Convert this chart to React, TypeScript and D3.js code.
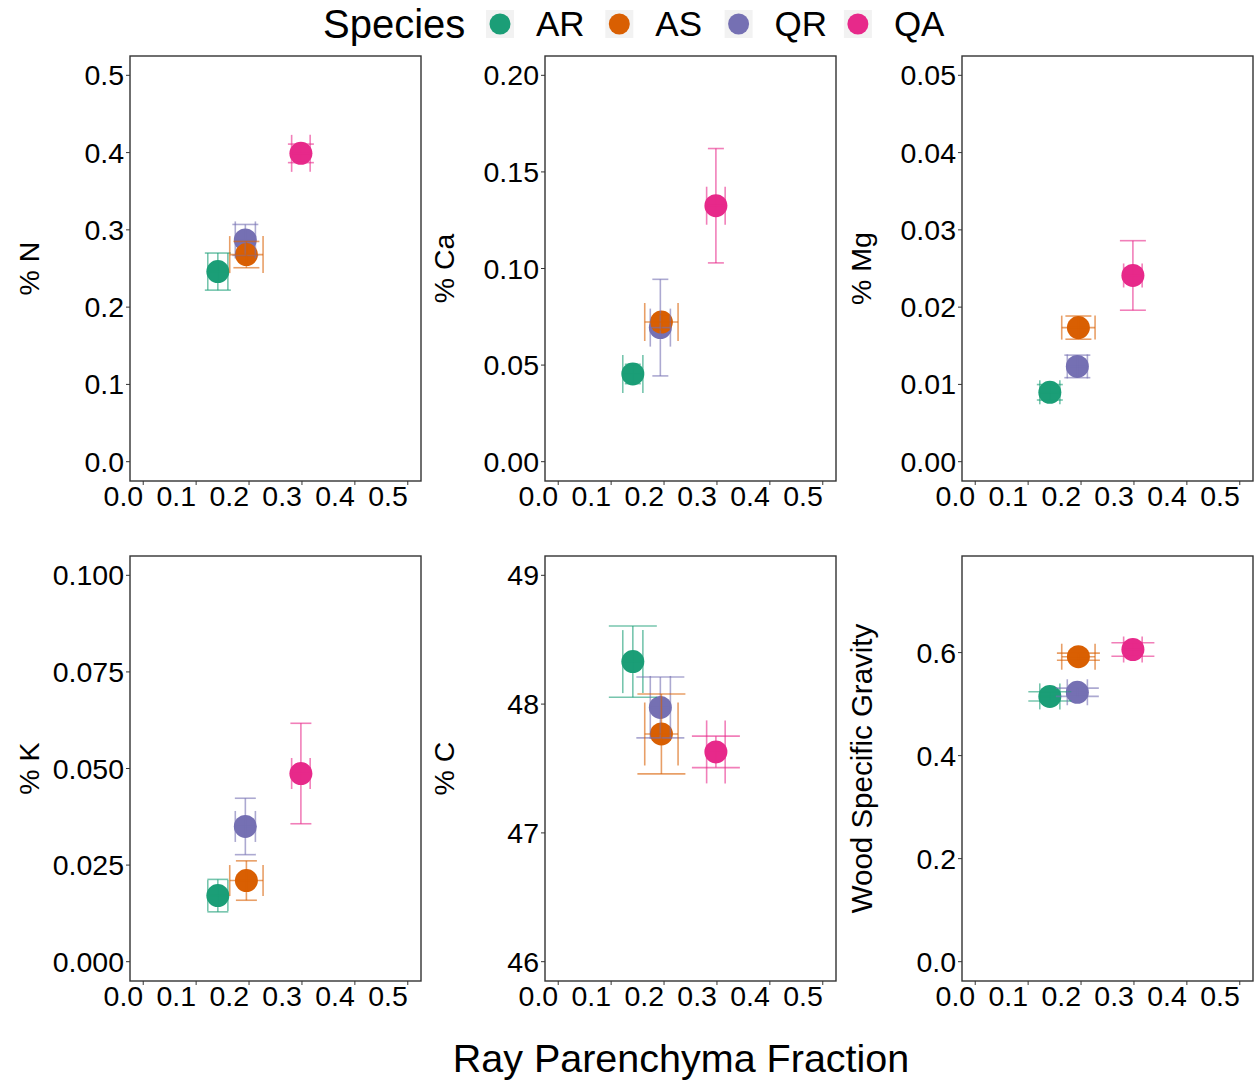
import React from "react";
import * as d3 from "d3";

const species = ["AR", "AS", "QR", "QA"];
const speciesColors = ["#1B9E77", "#D95F02", "#7570B3", "#E7298A"];
const drawOrder = [0, 2, 1, 3];

const rayFraction = [0.141, 0.195, 0.193, 0.298];
const rayFractionErr = [0.019, 0.0315, 0.019, 0.0175];

const panelTitles = ["% N", "% Ca", "% Mg", "% K", "% C", "Wood Specific Gravity"];
const nMean = [0.246, 0.268, 0.287, 0.399];
const nErr = [0.024, 0.017, 0.02, 0.012];
const caMean = [0.0454, 0.0723, 0.0694, 0.1325];
const caErr = [0.005, 0.004, 0.025, 0.0296];
const mgMean = [0.00898, 0.01735, 0.01233, 0.0241];
const mgErr = [0.001, 0.0015, 0.00146, 0.0045];
const kMean = [0.0171, 0.021, 0.035, 0.0487];
const kErr = [0.0042, 0.0051, 0.0073, 0.013];
const cMean = [48.33, 47.768, 47.974, 47.629];
const cErr = [0.277, 0.31, 0.236, 0.122];
const wsgMean = [0.515, 0.592, 0.523, 0.606];
const wsgErr = [0.009, 0.007, 0.008, 0.013];

const yLimits = [
  [0, 0.5],
  [0, 0.2],
  [0, 0.05],
  [0, 0.1],
  [46, 49],
  [0, 0.75],
];
const yTickValues = [
  [0, 0.1, 0.2, 0.3, 0.4, 0.5],
  [0, 0.05, 0.1, 0.15, 0.2],
  [0, 0.01, 0.02, 0.03, 0.04, 0.05],
  [0, 0.025, 0.05, 0.075, 0.1],
  [46, 47, 48, 49],
  [0, 0.2, 0.4, 0.6],
];
const yTickFormats = [".1f", ".2f", ".2f", ".3f", "d", ".1f"];
const xLimits = [0, 0.5];
const xTickValues = [0, 0.1, 0.2, 0.3, 0.4, 0.5];

// cap sizes in px: [vertical-bar cap width, horizontal-bar cap height]
const capSizes = [
  [26, 37],
  [16, 38],
  [26, 24],
  [21, 31],
  [48, 63],
  [43, 26],
];

const panelMeans = [nMean, caMean, mgMean, kMean, cMean, wsgMean];
const panelErrs = [nErr, caErr, mgErr, kErr, cErr, wsgErr];

const FONT = "'Liberation Sans', Arial, Helvetica, sans-serif";
const colLeft = [130, 545, 962];
const rowTop = [56, 556];
const PW = 291;
const PH = 425;

function expand(lim: number[]) {
  const r = lim[1] - lim[0];
  return [lim[0] - 0.05 * r, lim[1] + 0.05 * r];
}

function Panel({ idx }: { idx: number }) {
  const left = colLeft[idx % 3];
  const top = rowTop[Math.floor(idx / 3)];
  const x = d3.scaleLinear().domain(expand(xLimits)).range([left, left + PW]);
  const y = d3.scaleLinear().domain(expand(yLimits[idx])).range([top + PH, top]);
  const fmt = d3.format(yTickFormats[idx]);
  const means = panelMeans[idx];
  const errs = panelErrs[idx];
  const [capW, capH] = capSizes[idx];
  const tickCol = "#333333";
  return (
    <g>
      <rect x={left} y={top} width={PW} height={PH} fill="white" stroke="#333333" strokeWidth={1.4} />
      {yTickValues[idx].map((t) => (
        <g key={"y" + t}>
          <line x1={left - 4} x2={left} y1={y(t)} y2={y(t)} stroke={tickCol} strokeWidth={1} />
          <text x={left - 6} y={y(t)} textAnchor="end" dominantBaseline="central" fontFamily={FONT} fontSize={28.5} fill="black">
            {fmt(t)}
          </text>
        </g>
      ))}
      {xTickValues.map((t) => (
        <g key={"x" + t}>
          <line x1={x(t)} x2={x(t)} y1={top + PH} y2={top + PH + 4} stroke={tickCol} strokeWidth={1} />
          <text x={x(t)} y={top + PH + 25} textAnchor="end" fontFamily={FONT} fontSize={28.5} fill="black">
            {d3.format(".1f")(t)}
          </text>
        </g>
      ))}
      <text
        transform={`translate(${left - 101},${top + PH / 2}) rotate(-90)`}
        textAnchor="middle"
        dominantBaseline="central"
        fontFamily={FONT}
        fontSize={idx === 5 ? 29.5 : 28.5}
        fill="black"
      >
        {panelTitles[idx]}
      </text>
      {drawOrder.map((i) => (
        <circle key={"p" + i} cx={x(rayFraction[i])} cy={y(means[i])} r={11.5} fill={speciesColors[i]} />
      ))}
      {drawOrder.map((i) => {
        const cx = x(rayFraction[i]);
        const cy = y(means[i]);
        const y0 = y(means[i] - errs[i]);
        const y1 = y(means[i] + errs[i]);
        const x0 = x(rayFraction[i] - rayFractionErr[i]);
        const x1 = x(rayFraction[i] + rayFractionErr[i]);
        const c = speciesColors[i];
        return (
          <g key={"e" + i} stroke={c} strokeOpacity={0.6} strokeWidth={1.6} fill="none">
            <line x1={cx} x2={cx} y1={y0} y2={y1} />
            <line x1={cx - capW / 2} x2={cx + capW / 2} y1={y0} y2={y0} />
            <line x1={cx - capW / 2} x2={cx + capW / 2} y1={y1} y2={y1} />
            <line x1={x0} x2={x1} y1={cy} y2={cy} />
            <line x1={x0} x2={x0} y1={cy - capH / 2} y2={cy + capH / 2} />
            <line x1={x1} x2={x1} y1={cy - capH / 2} y2={cy + capH / 2} />
          </g>
        );
      })}
    </g>
  );
}

export default function App() {
  const legendX0 = 500;
  const legendStep = 119.3;
  return (
    <svg width={1254} height={1082} style={{ display: "block", position: "absolute", left: 0, top: 0 }}>
      <rect x={0} y={0} width={1254} height={1082} fill="white" />
      <text x={323} y={38} fontFamily={FONT} fontSize={40} fill="black">
        Species
      </text>
      {species.map((s, i) => {
        const cx = legendX0 + i * legendStep;
        return (
          <g key={s}>
            <rect x={cx - 14} y={10} width={28} height={28} fill="#F2F2F2" />
            <circle cx={cx} cy={24} r={10.5} fill={speciesColors[i]} />
            <text x={cx + 36} y={36} fontFamily={FONT} fontSize={35} fill="black">
              {s}
            </text>
          </g>
        );
      })}
      {panelTitles.map((_, i) => (
        <Panel key={i} idx={i} />
      ))}
      <text x={681} y={1072} textAnchor="middle" fontFamily={FONT} fontSize={39.5} fill="black">
        Ray Parenchyma Fraction
      </text>
    </svg>
  );
}
